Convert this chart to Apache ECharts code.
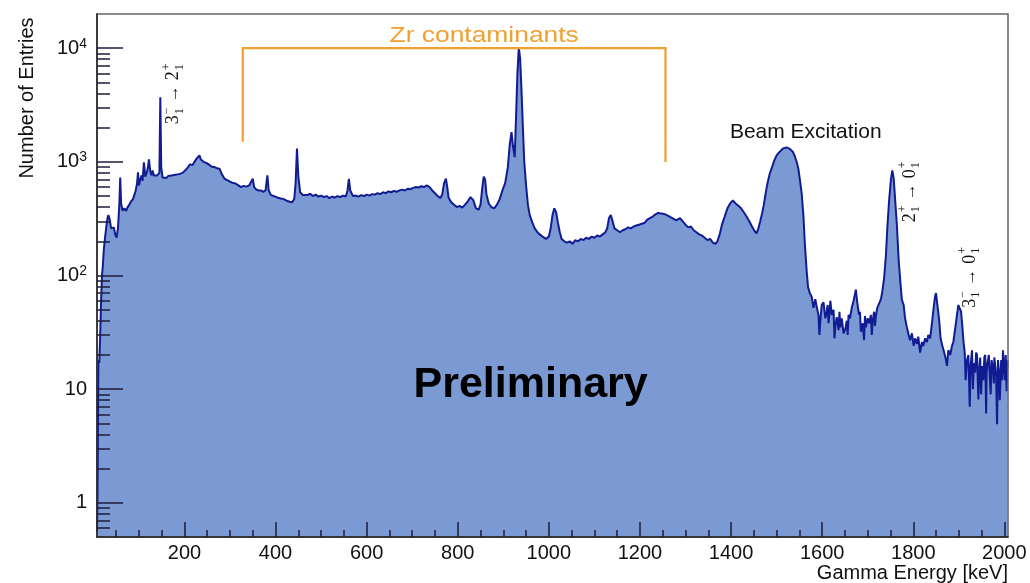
<!DOCTYPE html>
<html>
<head>
<meta charset="utf-8">
<title>Gamma energy spectrum</title>
<script src="https://cdn.jsdelivr.net/npm/echarts@6.0.0/dist/echarts.min.js"></script>
<style>
html, body { margin: 0; padding: 0; background: #fff; }
#chart { width: 1030px; height: 583px; }
</style>
</head>
<body>
<div id="chart"></div>
<script>
// spectrum: energy [keV] and entries per bin
const energy = [
  8, 9, 10, 11, 13, 15, 17, 19, 21, 23, 25, 28, 31, 33, 36, 39, 42, 45, 48, 51,
  54, 57, 59, 61, 64, 68, 72, 75, 79, 83, 87, 90, 93, 96, 98, 100, 103, 106, 108, 111,
  114, 117, 120, 122, 125, 128, 130, 133, 136, 140, 143, 145, 147, 149, 152, 156, 160, 164, 168, 172,
  176, 180, 184, 188, 192, 196, 200, 204, 208, 212, 215, 218, 222, 226, 229, 233, 236, 242, 248, 251,
  256, 261, 266, 271, 277, 282, 288, 294, 300, 305, 310, 316, 324, 330, 336, 342, 346, 350, 353, 358,
  363, 368, 373, 378, 382, 385, 390, 396, 402, 407, 412, 418, 424, 431, 436, 441, 444, 447, 450, 454,
  460, 464, 470, 476, 482, 488, 494, 500, 506, 512, 518, 524, 530, 536, 542, 548, 554, 558, 561, 564,
  570, 576, 582, 588, 594, 600, 606, 612, 618, 624, 630, 636, 642, 648, 654, 660, 666, 672, 678, 684,
  690, 696, 702, 708, 714, 720, 726, 732, 738, 744, 750, 756, 762, 766, 770, 774, 777, 780, 786, 792,
  798, 804, 810, 816, 822, 828, 831, 834, 840, 846, 850, 854, 857, 860, 863, 868, 874, 880, 886, 892,
  898, 904, 910, 914, 918, 921, 925, 928, 931, 934, 937, 940, 943, 946, 950, 954, 958, 964, 969, 975,
  980, 986, 994, 1000, 1004, 1008, 1012, 1016, 1020, 1024, 1028, 1034, 1040, 1046, 1052, 1058, 1064, 1070, 1076, 1082,
  1088, 1094, 1100, 1106, 1112, 1118, 1124, 1128, 1132, 1136, 1140, 1144, 1150, 1156, 1162, 1168, 1174, 1180, 1186, 1192,
  1198, 1204, 1210, 1216, 1222, 1228, 1234, 1240, 1244, 1250, 1256, 1262, 1268, 1274, 1280, 1288, 1294, 1300, 1306, 1312,
  1318, 1324, 1330, 1336, 1342, 1348, 1354, 1360, 1366, 1370, 1375, 1380, 1386, 1392, 1398, 1404, 1410, 1416, 1422, 1428,
  1434, 1440, 1446, 1452, 1456, 1460, 1464, 1468, 1472, 1476, 1480, 1485, 1490, 1495, 1500, 1507, 1514, 1522, 1529, 1536,
  1540, 1544, 1548, 1551, 1555, 1559, 1562, 1566, 1569, 1573, 1577, 1581, 1585, 1588, 1592, 1596, 1599, 1603, 1607, 1610,
  1614, 1618, 1621, 1625, 1629, 1632, 1636, 1640, 1643, 1647, 1651, 1654, 1658, 1661, 1665, 1669, 1674, 1677, 1681, 1685,
  1689, 1692, 1696, 1700, 1703, 1707, 1711, 1714, 1718, 1721, 1725, 1729, 1732, 1736, 1740, 1743, 1747, 1751, 1754, 1757,
  1760, 1764, 1768, 1771, 1775, 1779, 1782, 1786, 1790, 1793, 1797, 1801, 1804, 1808, 1811, 1815, 1819, 1822, 1826, 1830,
  1833, 1837, 1841, 1845, 1848, 1850, 1853, 1857, 1860, 1864, 1868, 1872, 1874, 1877, 1881, 1885, 1888, 1892, 1896, 1899,
  1902, 1905, 1908, 1910, 1913, 1918, 1924, 1929, 1933, 1938, 1943, 1947, 1951, 1956, 1960, 1963, 1968, 1972, 1977, 1980,
  1984, 1988, 1993, 1997, 2001, 2005, 2007,
  // extra readings of the noisy tail
  1594, 1612, 1627, 1638, 1656, 1683, 1694, 1709, 1716,
  1915, 1921, 1926, 1931, 1936, 1940, 1945, 1949, 1954, 1958, 1961, 1966, 1970, 1975, 1978, 1982, 1986, 1990, 1995, 1999, 2003
];
const counts = [
  0.55, 1, 4, 18, 17, 30, 60, 100, 125, 170, 204, 260, 320, 340, 310, 260, 250, 265, 230, 215,
  260, 420, 728, 430, 373, 390, 370, 398, 420, 450, 470, 487, 560, 650, 810, 620, 700, 760, 680, 990,
  740, 800, 900, 1050, 820, 760, 840, 760, 740, 760, 750, 800, 3700, 900, 728, 740, 720, 750, 730, 760,
  740, 770, 745, 780, 760, 800, 820, 860, 900, 950, 970, 940, 1000, 1060, 1020, 1140, 1050, 1000, 980, 970,
  930, 900, 900, 880, 870, 780, 710, 690, 670, 655, 650, 630, 600, 615, 605, 620, 620, 710, 600, 570,
  560, 560, 545, 560, 760, 560, 510, 500, 490, 480, 475, 470, 455, 445, 440, 470, 650, 1310, 750, 540,
  510, 525, 510, 525, 500, 515, 495, 505, 490, 500, 480, 495, 485, 500, 490, 505, 495, 560, 710, 560,
  500, 505, 495, 510, 500, 515, 505, 520, 515, 530, 520, 540, 530, 550, 540, 555, 545, 560, 570, 560,
  580, 575, 590, 600, 595, 610, 600, 620, 600, 560, 530, 500, 480, 520, 650, 710, 600, 480, 440, 420,
  400, 410, 395, 420, 450, 490, 500, 460, 390, 380, 420, 600, 740, 700, 520, 430, 400, 390, 420, 470,
  560, 650, 900, 1400, 1830, 1400, 1100, 2500, 6000, 10200, 8000, 4200, 2000, 1000, 620, 420, 340, 290, 260, 240,
  230, 220, 210, 220, 260, 340, 390, 360, 290, 240, 210, 200, 195, 200, 190, 205, 200, 210, 205, 215,
  210, 220, 215, 225, 220, 230, 240, 260, 320, 340, 300, 260, 250, 240, 250, 255, 265, 260, 270, 275,
  280, 285, 290, 310, 320, 330, 345, 355, 360, 350, 345, 335, 325, 315, 305, 320, 300, 280, 265, 270,
  250, 240, 230, 225, 215, 205, 210, 195, 190, 200, 230, 280, 330, 390, 430, 458, 430, 410, 390, 360,
  330, 300, 270, 245, 235, 260, 300, 350, 420, 530, 650, 790, 900, 1030, 1140, 1230, 1310, 1340, 1300, 1220,
  1120, 1000, 860, 700, 530, 330, 190, 110, 79, 70, 65, 52, 62, 53, 45, 40, 55, 58, 42, 48,
  38, 60, 45, 50, 36, 43, 33, 35, 42, 31, 34, 40, 45, 42, 52, 60, 75, 58, 45, 32,
  38, 27, 35, 42, 38, 45, 40, 48, 44, 52, 50, 62, 72, 95, 150, 260, 458, 700, 840, 720,
  480, 280, 136, 95, 61, 55, 42, 35, 30, 27, 31, 24, 28, 25, 29, 21, 26, 24, 28, 26,
  30, 28, 38, 53, 66, 70, 55, 40, 28, 24, 21, 18, 16, 22, 20, 24, 26, 34, 45, 55,
  57, 48, 35, 27, 21, 18, 7, 22, 17, 21, 8.1, 19, 16, 19, 6.1, 17, 13, 18, 11.2, 16,
  4.9, 14.5, 18, 22, 12, 9.6, 18,
  30, 55, 28, 48, 30, 48, 44, 30, 36,
  12, 20, 16, 10, 14, 20, 15, 9, 12, 20, 14, 20, 9, 15, 19, 13, 18, 8, 12, 16, 20
];

const xMajorTicks = [200, 400, 600, 800, 1000, 1200, 1400, 1600, 1800, 2000];
const xMinorTicks = [50, 100, 150, 250, 300, 350, 450, 500, 550, 650, 700, 750, 850, 900, 950,
  1050, 1100, 1150, 1250, 1300, 1350, 1450, 1500, 1550, 1650, 1700, 1750, 1850, 1900, 1950];
const yMajorTicks = [1, 10, 100, 1000, 10000];
const yMinorTicks = [0.6, 0.7, 0.8, 0.9, 2, 3, 4, 5, 6, 7, 8, 9, 20, 30, 40, 50, 60, 70, 80, 90,
  200, 300, 400, 500, 600, 700, 800, 900, 2000, 3000, 4000, 5000, 6000, 7000, 8000, 9000];

// annotations, anchored in data space [keV, entries]
const zrBracket = [[328, 1500], [328, 10000], [1256, 10000], [1256, 995]];
const zrLabel = { text: 'Zr contaminants', at: [858, 12700] };
const beamLabel = { text: 'Beam Excitation', at: [1564, 1815] };
const prelimLabel = { text: 'Preliminary', at: [960, 10.8] };
const transitions = [
  { at: [176, 2140], from: ['3', '\u2212', '1'], to: ['2', '+', '1'] },
  { at: [1793, 294], from: ['2', '+', '1'], to: ['0', '+', '1'] },
  { at: [1925, 52], from: ['3', '\u2212', '1'], to: ['0', '+', '1'] }
];

const SANS = '"Liberation Sans", Arial, Helvetica, sans-serif';
const SERIF = '"Liberation Serif", "DejaVu Serif", serif';
const TICK = '#1c1c3c';

const spectrum = energy.map((e, i) => [e, counts[i]]).sort((a, b) => a[0] - b[0]);

const chart = echarts.init(document.getElementById('chart'));

const option = {
  animation: false,
  grid: {
    left: 97, right: 22, top: 14, bottom: 46,
    show: true, z: 4,
    borderColor: '#666', borderWidth: 1.5,
    backgroundColor: 'transparent'
  },
  xAxis: [
    {
      type: 'value', min: 8, max: 2008, position: 'bottom', z: 5,
      axisLine: { show: true, lineStyle: { color: '#222', width: 1.5 } },
      axisTick: { show: true, inside: true, length: 15, customValues: xMajorTicks, lineStyle: { color: TICK, width: 1.5 } },
      axisLabel: { customValues: xMajorTicks, fontSize: 20, color: '#111', margin: 6, fontFamily: SANS, formatter: v => String(v) },
      splitLine: { show: false }
    },
    {
      type: 'value', min: 8, max: 2008, position: 'bottom', offset: 0, z: 5,
      axisLine: { show: false },
      axisTick: { show: true, inside: true, length: 7, customValues: xMinorTicks, lineStyle: { color: TICK, width: 1.5 } },
      axisLabel: { show: false },
      splitLine: { show: false }
    }
  ],
  yAxis: [
    {
      type: 'log', logBase: 10, min: 0.5, max: 20000, position: 'left', z: 5,
      axisLine: { show: true, lineStyle: { color: '#222', width: 1.5 } },
      axisTick: { show: true, inside: true, length: 26, customValues: yMajorTicks, lineStyle: { color: TICK, width: 1.5 } },
      axisLabel: {
        customValues: yMajorTicks, fontSize: 20, color: '#111', margin: 10, fontFamily: SANS,
        formatter: v => v >= 100 ? '10{s|' + Math.round(Math.log10(v)) + '}' : String(v),
        rich: { s: { fontSize: 14, fontFamily: SANS, color: '#111', verticalAlign: 'top', padding: [0, 0, 9, 0] } }
      },
      splitLine: { show: false }
    },
    {
      type: 'log', logBase: 10, min: 0.5, max: 20000, position: 'left', offset: 0, z: 5,
      axisLine: { show: false },
      axisTick: { show: true, inside: true, length: 13, customValues: yMinorTicks, lineStyle: { color: TICK, width: 1.5 } },
      axisLabel: { show: false },
      splitLine: { show: false }
    }
  ],
  series: [
    {
      name: 'Entries',
      type: 'line',
      xAxisIndex: 0,
      yAxisIndex: 0,
      data: spectrum,
      symbol: 'none',
      z: 1,
      lineStyle: { color: '#121c92', width: 2 },
      areaStyle: { color: '#7b99d2', opacity: 1, origin: 'start' }
    }
  ]
};

chart.setOption(option);

const px = p => chart.convertToPixel({ seriesIndex: 0 }, p);

// one rotated level-transition label, e.g. 3^-_1 -> 2^+_1
const transitionLabel = t => {
  const p = px(t.at);
  const part = (x, y, text, size) => ({
    type: 'text', x: x, y: y,
    style: { text: text, fontSize: size, fontFamily: SERIF, fill: '#111', align: 'left', verticalAlign: 'middle' }
  });
  return {
    type: 'group', x: p[0], y: p[1], rotation: Math.PI / 2, z: 20,
    children: [
      part(0, 0, t.from[0], 18),
      part(10, -7, t.from[1], 12),
      part(10, 6, t.from[2], 12),
      part(22, 0, '\u2192', 17),
      part(44, 0, t.to[0], 18),
      part(54, -7, t.to[1], 12),
      part(54, 6, t.to[2], 12)
    ]
  };
};

const zrP = px(zrLabel.at);
const beamP = px(beamLabel.at);
const prelimP = px(prelimLabel.at);

chart.setOption({
  graphic: [
    {
      type: 'polyline', z: 20, silent: true,
      shape: { points: zrBracket.map(px) },
      style: { stroke: '#f0a02e', lineWidth: 2.2, fill: null }
    },
    {
      type: 'text', x: zrP[0], y: zrP[1], z: 20, scaleX: 1.2,
      style: { text: zrLabel.text, fontSize: 22, fontFamily: SANS, fill: '#f0a02e', align: 'center', verticalAlign: 'middle' }
    },
    {
      type: 'text', x: beamP[0], y: beamP[1], z: 20,
      style: { text: beamLabel.text, fontSize: 21, fontFamily: SANS, fill: '#111', align: 'center', verticalAlign: 'middle' }
    },
    {
      type: 'text', x: prelimP[0], y: prelimP[1], z: 20,
      style: { text: prelimLabel.text, fontSize: 43, fontWeight: 'bold', fontFamily: SANS, fill: '#000', align: 'center', verticalAlign: 'middle' }
    },
    ...transitions.map(transitionLabel),
    {
      type: 'text', x: 27, y: 98, rotation: Math.PI / 2, z: 20,
      style: { text: 'Number of Entries', fontSize: 20, fontFamily: SANS, fill: '#111', align: 'center', verticalAlign: 'middle' }
    },
    {
      type: 'text', x: 1008, y: 573, z: 20,
      style: { text: 'Gamma Energy [keV]', fontSize: 20, fontFamily: SANS, fill: '#111', align: 'right', verticalAlign: 'middle' }
    }
  ]
});

window.addEventListener('resize', () => chart.resize());
</script>
</body>
</html>
